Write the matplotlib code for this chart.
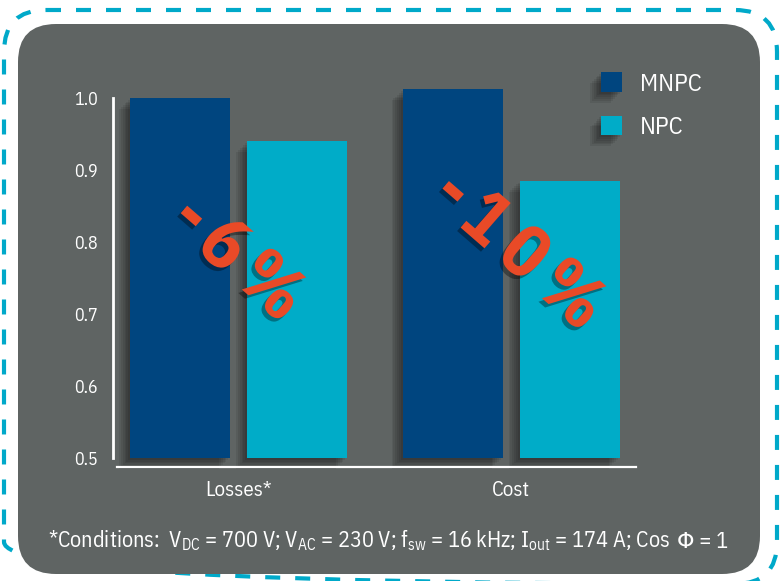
import matplotlib
matplotlib.use('Agg')
import numpy as np
import matplotlib.pyplot as plt
import matplotlib.patheffects as pe
from matplotlib.patches import FancyBboxPatch
from matplotlib.transforms import offset_copy
from matplotlib.textpath import TextPath
from matplotlib.font_manager import FontProperties
from matplotlib.offsetbox import TextArea, HPacker, AnchoredOffsetbox

# data: relative losses / cost, normalised to MNPC losses
categories = ['Losses*', 'Cost']
series = ['MNPC', 'NPC']
mnpc = [1.0, 1.012]
npc = [0.94, 0.885]
savings = ['-6%', '-10%']
yticks = [0.5, 0.6, 0.7, 0.8, 0.9, 1.0]
footnote = [r'*Conditions:  V$_{\mathrm{DC}}$ = 700 V; V$_{\mathrm{AC}}$ = 230 V; '
            r'f$_{\mathrm{sw}}$ = 16 kHz; I$_{\mathrm{out}}$ = 174 A; Cos',
            'Φ = 1']

DARK_BLUE = '#00457f'
CYAN = '#00acc8'
PANEL = '#5f6463'
ORANGE = '#e94a27'
FONT = ['IBM Plex Sans Condensed', 'Liberation Sans Narrow', 'DejaVu Sans']

plt.rcParams['font.family'] = FONT
plt.rcParams['mathtext.fontset'] = 'custom'
plt.rcParams['mathtext.rm'] = 'IBM Plex Sans Condensed'
plt.rcParams['mathtext.it'] = 'IBM Plex Sans Condensed'

W, H = 782, 581
fig = plt.figure(figsize=(W / 100, H / 100), dpi=100)

# background: dashed frame and dark rounded panel, in pixel units
bg = fig.add_axes([0, 0, 1, 1])
bg.set_xlim(0, W)
bg.set_ylim(H, 0)
bg.axis('off')
bg.add_patch(FancyBboxPatch((4, 10), 773, 574, boxstyle='round,pad=0,rounding_size=42',
                            fc='none', ec='#00a9c9', lw=3, ls=(0, (3.6, 3.6)), clip_on=False))
bg.add_patch(FancyBboxPatch((18, 24), 742, 550, boxstyle='round,pad=0,rounding_size=38',
                            fc=PANEL, ec='none'))

# soft drop shadow made from a few stacked offset copies
def soft_shadow(steps=6, step=1.3, alpha=0.08):
    fx = [pe.SimplePatchShadow(offset=(-step * k, -step * k), shadow_rgbFace='black', alpha=alpha)
          for k in range(1, steps + 1)]
    return fx + [pe.Normal()]

# main axes, placed so that 0.5..1.0 runs from y=458 to y=98 px
px_per_unit = 272.5
x0_px = 238.5
left_px, right_px = 113, 640
ax = fig.add_axes([left_px / W, (H - 458) / H, (right_px - left_px) / W, 396 / H])
ax.set_facecolor('none')
ax.set_xlim((left_px - x0_px) / px_per_unit, (right_px - x0_px) / px_per_unit)
ax.set_ylim(0.5, 1.05)

x = np.arange(len(categories))
width = 100 / px_per_unit
off = 58.5 / px_per_unit
base = 0.5
b1 = ax.bar(x - off, np.array(mnpc) - base, width, bottom=base, color=DARK_BLUE,
            label=series[0], clip_on=False, zorder=2)
b2 = ax.bar(x + off, np.array(npc) - base, width, bottom=base, color=CYAN,
            label=series[1], clip_on=False, zorder=2)
for bar in list(b1) + list(b2):
    bar.set_path_effects(soft_shadow())

# axes styling
for s in ['top', 'right']:
    ax.spines[s].set_visible(False)
ax.spines['left'].set_bounds(0.5, 1.0)
ax.spines['left'].set_color('white')
ax.spines['left'].set_linewidth(2)
ax.spines['bottom'].set_position(('outward', 6.5))
ax.spines['bottom'].set_bounds((117 - x0_px) / px_per_unit, (636 - x0_px) / px_per_unit)
ax.spines['bottom'].set_color('white')
ax.spines['bottom'].set_linewidth(1.6)

ax.set_yticks(yticks)
ax.set_yticklabels(['%.1f' % t for t in yticks])
ax.set_xticks(x)
ax.set_xticklabels(categories)
ax.tick_params(axis='y', length=0, pad=11, labelsize=13, labelcolor='white')
ax.tick_params(axis='x', length=0, pad=10, labelsize=15, labelcolor='white')

leg = ax.legend(handles=[b1, b2], labels=series, loc='upper left',
                bbox_to_anchor=(601 / W, (H - 72) / H), bbox_transform=fig.transFigure,
                frameon=False, fontsize=18, labelcolor='white', handlelength=0.84,
                handleheight=0.84, handletextpad=0.7, labelspacing=0.8,
                borderpad=0, borderaxespad=0)

# big rotated percentage labels, letters spaced out along the baseline
big = FontProperties(family=FONT, weight='bold', size=53)
angle = -41
label_pos = [(-0.031, 0.785), (1.0, 0.796)]
track = 16  # extra px between letters
for (lx, ly), txt in zip(label_pos, savings):
    widths = [TextPath((0, 0), ch, prop=big).get_extents().width * 100 / 72 for ch in txt]
    centers = [0.0]
    for a, b in zip(widths[:-1], widths[1:]):
        centers.append(centers[-1] + 0.5 * (a + b) + track)
    mid = (centers[0] + centers[-1]) / 2
    ca, sa = np.cos(np.radians(angle)), np.sin(np.radians(angle))
    for ch, c in zip(txt, centers):
        d = c - mid
        tr = offset_copy(ax.transData, fig=fig, x=d * ca, y=d * sa, units='dots')
        ax.text(lx, ly, ch, transform=tr, rotation=angle, rotation_mode='anchor',
                ha='center', va='center', fontproperties=big, color=ORANGE, zorder=5,
                path_effects=[pe.withSimplePatchShadow(offset=(-2.5, -2.5),
                                                       shadow_rgbFace='black', alpha=0.35)])

# footnote; the Greek letter goes in its own piece so the font fallback can find it
props = dict(color='white', fontsize=16)
parts = [TextArea(s, textprops=props) for s in footnote]
row = HPacker(children=parts, align='baseline', pad=0, sep=5)
note = AnchoredOffsetbox(loc='center', child=row, pad=0, borderpad=0, frameon=False,
                         bbox_to_anchor=(388 / W, (H - 541) / H),
                         bbox_transform=fig.transFigure)
ax.add_artist(note)

fig.savefig('out.png', dpi=100)
